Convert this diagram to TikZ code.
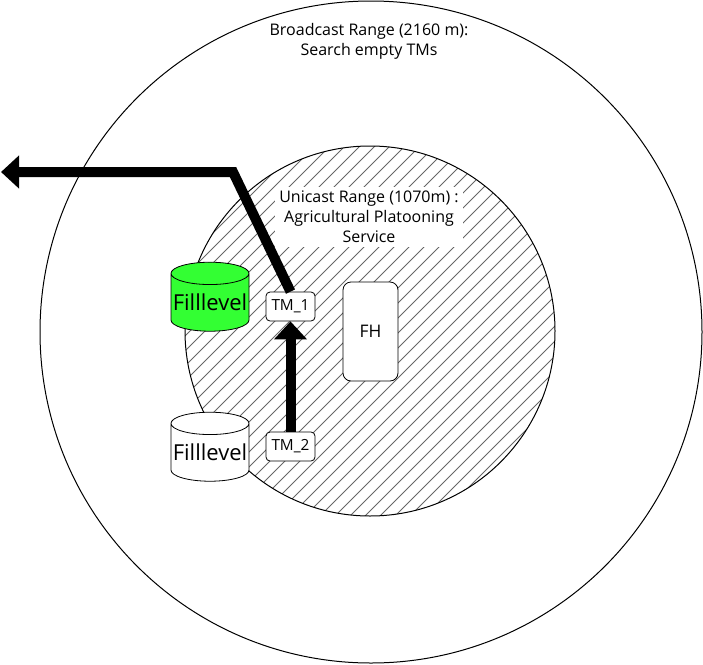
\documentclass[tikz,border=0pt]{standalone}
\usepackage{fontspec}
\setmainfont{Open Sans}
\usetikzlibrary{shapes.geometric, arrows.meta, positioning}

\begin{document}
\begin{tikzpicture}[
  x=0.75pt, y=-0.75pt,
  zone/.style={circle, draw=black, line width=0.75pt, inner sep=0pt, outer sep=0pt},
  hatch/.style={draw=black!60, line width=0.6pt},
  lbl/.style={align=center, font=\fontsize{12}{15}\selectfont},
  tm/.style={rectangle, draw=black, fill=white, rounded corners=3pt, line width=0.6pt, minimum width=36.75pt, minimum height=21.75pt, inner sep=1pt, font=\fontsize{11.5}{13}\selectfont},
  tank/.style={cylinder, shape border rotate=90, draw=black, line width=0.6pt, aspect=0.3, minimum width=58.5pt, minimum height=51.75pt, inner sep=0pt, font=\fontsize{16.5}{19}\selectfont},
  arr/.style={-{Triangle[length=13.5pt, width=24pt]}, line width=7.5pt},
]
\useasboundingbox (0,0) rectangle (703,664);

%% Ranges
\node[zone, minimum size=496.5pt] (bcast) at (371,332) {};
\begin{scope}
  \clip (370,331) circle[radius=138.75pt];
  \foreach \c in {-285,-270,...,285}
    \draw[hatch] (170+\c/2,531+\c/2) -- (570+\c/2,131+\c/2);
\end{scope}
\node[zone, minimum size=277.5pt] (ucast) at (370,331) {};

\node[lbl] (bcastlbl) at (369,41) {Broadcast Range (2160 m):\\Search empty TMs};
\node[lbl, fill=white, minimum width=140pt, minimum height=45pt] (ucastlbl) at (369,217) {Unicast Range (1070m) :\\Agricultural Platooning\\Service};

%% Machines
\node[tm] (tm1) at (290.5,306.5) {TM\_1};
\node[tm] (tm2) at (290.5,446.5) {TM\_2};
\node[tm, rounded corners=6pt, minimum width=41.25pt, minimum height=74.25pt, font=\fontsize{13}{15}\selectfont] (fh) at (370.5,331.5) {FH};

%% Fill levels
\node[tank, fill={rgb,255:red,51;green,255;blue,51}] (fill1) at (210,302.5) {Filllevel};
\node[tank, fill=white] (fill2) at (210,452.5) {Filllevel};

%% Movements
\coordinate (bend) at (233,172);
\coordinate (exit) at (1,172);
\draw[arr] (tm2) -- (tm1);
\draw[arr] (tm1.north) -- (bend) -- (exit);
\end{tikzpicture}
\end{document}
